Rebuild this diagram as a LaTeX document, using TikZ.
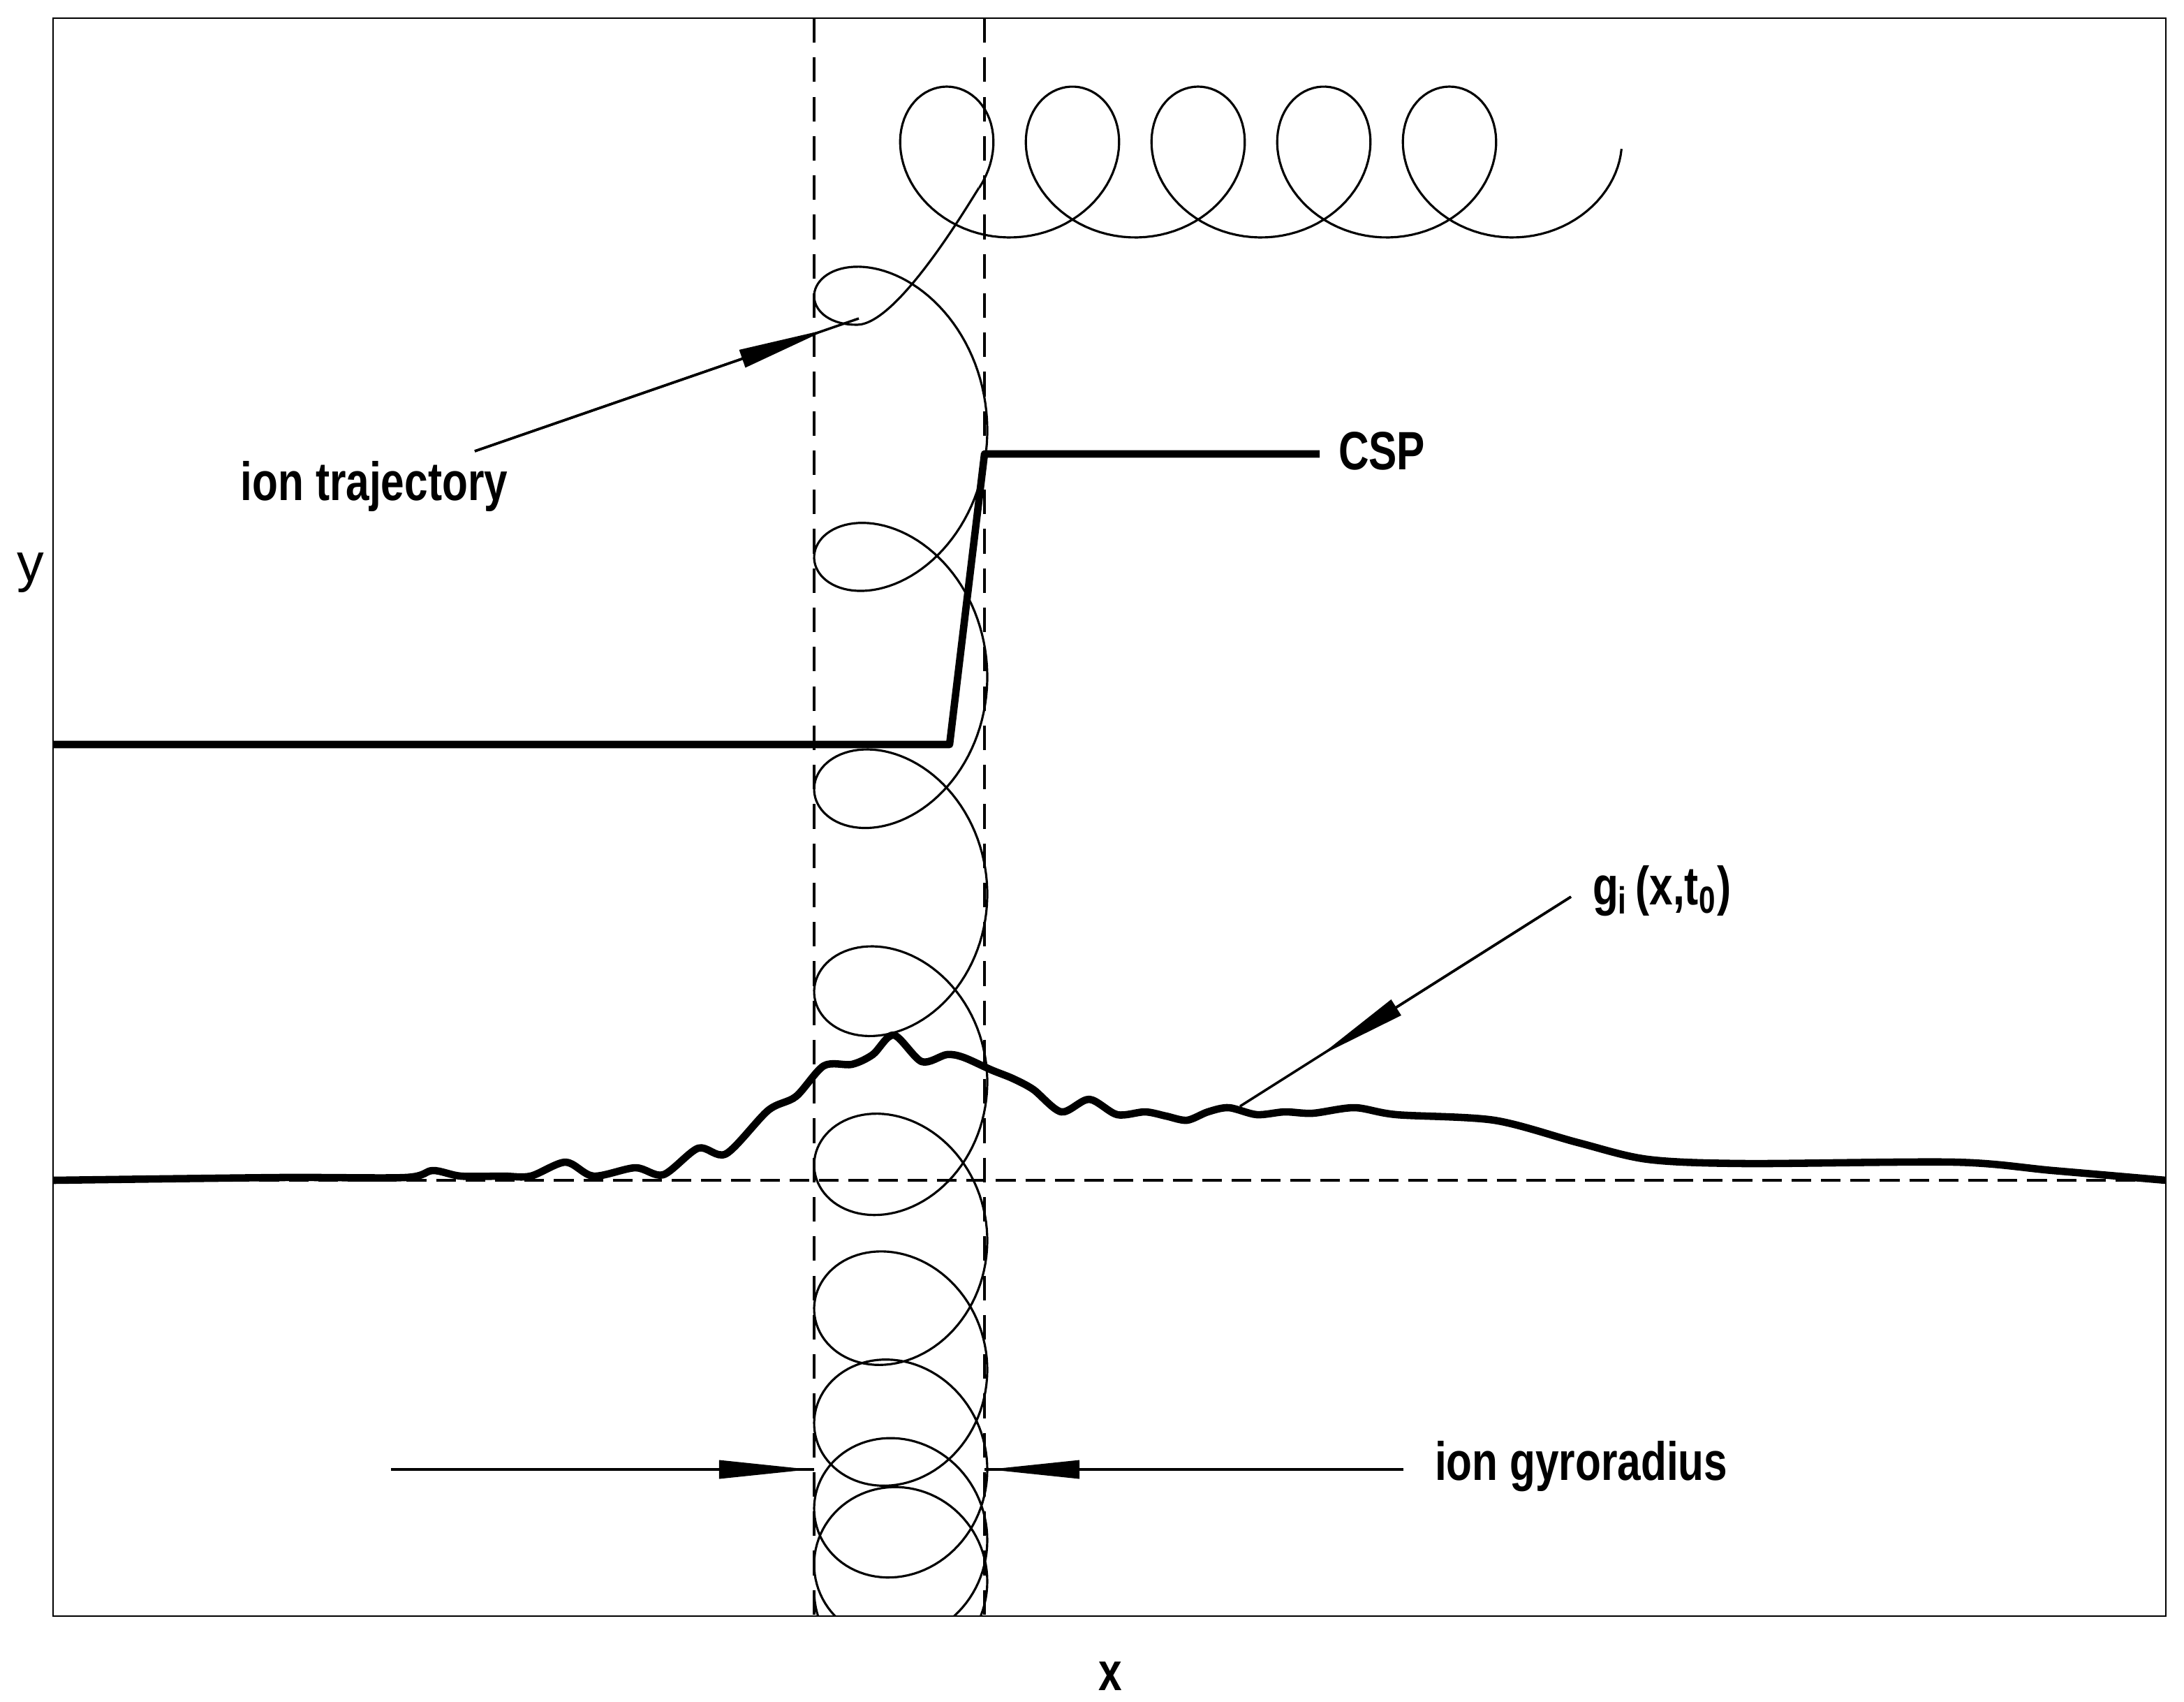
\documentclass[tikz,border=0pt]{standalone}
\usepackage{fontspec}
\setmainfont{Liberation Sans}
\usetikzlibrary{arrows.meta,calc}
\begin{document}
\begin{tikzpicture}[x=0.01cm,y=-0.01cm,
  frame/.style={line width=0.4pt},
  traj/.style={line width=0.45pt},
  thickc/.style={line width=1.5pt,line join=round},
  lbl/.style={font=\bfseries\fontsize{11}{13}\selectfont,xscale=0.78,inner sep=0pt},
  ptr/.style={line width=0.5pt},
  head/.style={-{Triangle[length=6.5mm,width=1.3mm]},line width=0.5pt},
  dsh/.style={dashed,line width=0.45pt,dash pattern=on 5pt off 3pt}]
\useasboundingbox (0,0) rectangle (1564,1218);
\draw[frame] (38,13) rectangle (1551,1157);
% dashed guides
\coordinate (d1t) at (583,13); \coordinate (d1b) at (583,1157);
\coordinate (d2t) at (705,13); \coordinate (d2b) at (705,1157);
\coordinate (hl) at (38,845); \coordinate (hr) at (1551,845);
\draw[dsh] (d1t) -- (d1b);
\draw[dsh] (d2t) -- (d2b);
\draw[dsh,dash pattern=on 4pt off 2pt] (hl) -- (hr);
% trajectory
\begin{scope}
\clip (38,13) rectangle (1551,1157);
\draw[traj] plot[domain=-180:3120,samples=900,variable=\t]
  ({645+62*cos(\t)},{1120-29.5*((\t-180)/360)-10.5*((\t-180)/360)^2-62*sin(\t)})
  .. controls (642,232) and (690,152) .. (701,134.5);
\draw[traj] plot[domain=-20:1810,samples=400,variable=\t]
  ({678+(\t-90)/4+54*cos(\t)},{116-54*sin(\t)});
\end{scope}
% CSP
\coordinate (c0) at (38,533); \coordinate (c1) at (680,533);
\coordinate (c2) at (705,325); \coordinate (c3) at (945,325);
\draw[thickc] (c0) -- (c1) -- (c2) -- (c3);
\node[lbl,anchor=west] (csp) at (958,323) {CSP};
% g_i curve
\draw[thickc] plot[smooth,tension=0.5] coordinates {(38,845) (200,843) (290,843) (310,838) (330,842) (360,842) (380,842) (405,832) (425,842) (455,836) (475,841) (500,822) (520,826) (550,795) (570,785) (590,763) (610,762) (625,755) (640,741) (660,760) (678,755) (690,757) (710,766) (725,772) (740,780) (760,796) (780,787) (800,798) (820,796) (835,799) (850,802) (865,796) (880,793) (900,798) (920,796) (940,797) (970,793) (1000,798) (1070,802) (1130,818) (1180,830) (1250,833) (1400,832) (1470,838) (1551,845)};
% ion trajectory label
\node[lbl] (it) at (268,348) {ion trajectory};
\coordinate (itA) at (340,323); \coordinate (itB) at (615,228);
\draw[ptr] (itA) -- (itB);
\draw[head] (itA) -- ($(itA)!0.92!(itB)$);
% g_i label
\node[lbl,anchor=west] (gi) at (1140,638) {g\textsubscript{i}\,(x,t\textsubscript{0})};
\coordinate (gA) at (1125,642); \coordinate (gB) at (888,792);
\draw[ptr] (gA) -- (gB);
\draw[head] (gA) -- ($(gA)!0.76!(gB)$);
% gyroradius
\node[lbl,anchor=west] (gy) at (1027,1050) {ion gyroradius};
\coordinate (lA) at (280,1052); \coordinate (lB) at (583,1052);
\coordinate (rA) at (1005,1052); \coordinate (rB) at (705,1052);
\draw[ptr] (lA) -- (lB);
\draw[head] (lA) -- (580,1052);
\draw[ptr] (rA) -- (rB);
\draw[head] (rA) -- (708,1052);
% axes labels
\node[font=\fontsize{11}{13}\selectfont] (ylab) at (22,410) {y};
\node[lbl] (xlab) at (795,1200) {x};
\end{tikzpicture}
\end{document}
